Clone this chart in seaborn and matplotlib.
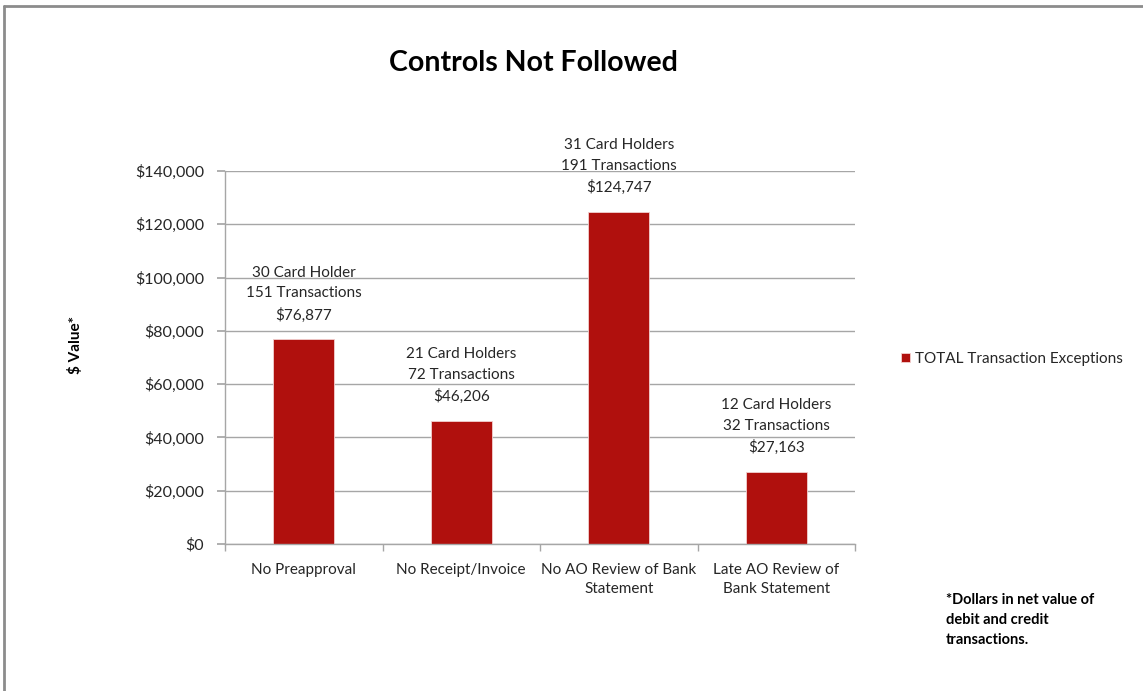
import matplotlib
matplotlib.use("Agg")
import matplotlib.pyplot as plt
import matplotlib.lines as mlines
import seaborn as sns
import pandas as pd
from matplotlib.ticker import FuncFormatter, FixedLocator

categories = ["No Preapproval", "No Receipt/Invoice", "No AO Review of Bank\nStatement",
              "Late AO Review of\nBank Statement"]
values = [76877, 46206, 124747, 27163]
card_holders = ["30 Card Holder", "21 Card Holders", "31 Card Holders", "12 Card Holders"]
transactions = ["151 Transactions", "72 Transactions", "191 Transactions", "32 Transactions"]
series_name = "TOTAL Transaction Exceptions"
y_ticks = [0, 20000, 40000, 60000, 80000, 100000, 120000, 140000]

sns.set_theme(style="white")
plt.rcParams["font.family"] = ["Lato", "DejaVu Sans"]

df = pd.DataFrame({"category": categories, "value": values})

fig = plt.figure(figsize=(11.43, 6.91), dpi=100)
ax = fig.add_axes([225/1143, 1-544/691, (855-225)/1143, (544-171)/691])

bar_color = "#B0100D"
sns.barplot(data=df, x="category", y="value", color=bar_color, width=0.39,
            saturation=1, ax=ax, label=series_name, edgecolor="#f2d0d0", linewidth=0.6)
if ax.get_legend() is not None:
    ax.get_legend().remove()

ax.set_ylim(0, 140000)
ax.set_xlim(-0.5, 3.5)
ax.yaxis.set_major_locator(FixedLocator(y_ticks))
ax.yaxis.set_major_formatter(FuncFormatter(lambda v, p: f"${int(v):,}"))
ax.grid(axis="y", color="#a6a6a6", linewidth=1)
ax.set_axisbelow(True)
for s in ["top", "right"]:
    ax.spines[s].set_visible(False)
for s in ["left", "bottom"]:
    ax.spines[s].set_color("#a6a6a6")
    ax.spines[s].set_linewidth(1)

ax.tick_params(axis="y", which="major", left=True, length=6, color="#a6a6a6",
               labelsize=11.5, labelcolor="#262626", pad=9)
ax.tick_params(axis="x", which="major", bottom=False, labelsize=11, labelcolor="#262626", pad=8)
for lbl in ax.get_xticklabels():
    lbl.set_linespacing(1.4)
ax.set_xticks([-0.5, 0.5, 1.5, 2.5, 3.5], minor=True)
ax.tick_params(axis="x", which="minor", bottom=True, length=5, color="#a6a6a6", width=1)
ax.set_xlabel("")
ax.set_ylabel("")

for i, (v, ch, tr) in enumerate(zip(values, card_holders, transactions)):
    ax.annotate(f"{ch}\n{tr}\n${v:,}", xy=(i, v), xytext=(0, 12), textcoords="offset points",
                ha="center", va="bottom", fontsize=11, color="#262626", linespacing=1.6)

fig.text(533/1143, 1-63/691, "Controls Not Followed", ha="center", va="center",
         fontsize=20.5, fontweight="bold", color="black")
fig.text(76/1143, 1-345/691, "$ Value*", ha="center", va="center", rotation=90,
         fontsize=11, fontweight="bold", color="black")

fig.legend(loc="center left", bbox_to_anchor=(0.776, 1-359/691), frameon=False,
           fontsize=11, handlelength=0.6, handleheight=0.6, handletextpad=0.35,
           labelcolor="#262626")

fig.text(946/1143, 1-620/691, "*Dollars in net value of\ndebit and credit\ntransactions.",
         ha="left", va="center", fontsize=10.5, fontweight="bold", color="black",
         linespacing=1.55)

# outer frame (top and left edges)
fig.add_artist(mlines.Line2D([4/1143, 1], [1-6/691, 1-6/691], color="#8c8c8c", lw=2,
                             transform=fig.transFigure))
fig.add_artist(mlines.Line2D([4/1143, 4/1143], [0, 1-6/691], color="#8c8c8c", lw=2,
                             transform=fig.transFigure))

fig.savefig("out.png", dpi=100)
